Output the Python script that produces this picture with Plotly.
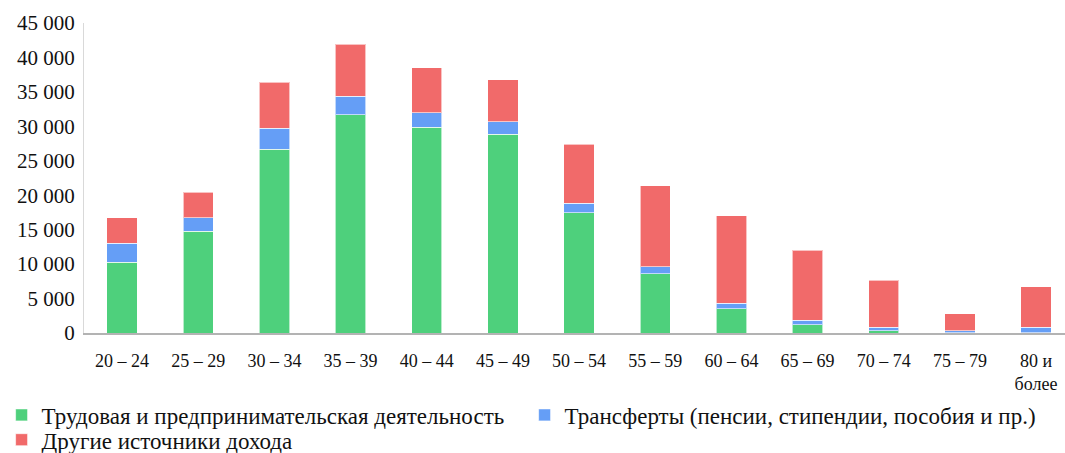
import plotly.graph_objects as go

categories = ["20 – 24", "25 – 29", "30 – 34", "35 – 39", "40 – 44", "45 – 49", "50 – 54",
              "55 – 59", "60 – 64", "65 – 69", "70 – 74", "75 – 79", "80 и<br>более"]
labor = [10250, 14800, 26650, 31650, 29900, 28850, 17450, 8600, 3550, 1200, 330, 30, 30]
transfers = [2750, 1900, 3100, 2750, 2100, 1850, 1350, 1000, 750, 630, 490, 300, 790]
other = [3700, 3700, 6650, 7550, 6500, 6050, 8600, 11800, 12700, 10170, 6820, 2430, 5860]
series_names = ["Трудовая и предпринимательская деятельность",
                "Трансферты (пенсии, стипендии, пособия и пр.)",
                "Другие источники дохода"]
y_tickvals = [0, 5000, 10000, 15000, 20000, 25000, 30000, 35000, 40000, 45000]
y_ticktext = ["0", "5 000", "10 000", "15 000", "20 000", "25 000", "30 000", "35 000", "40 000", "45 000"]

colors = ["#4ED07C", "#659EF6", "#F16A6A"]
legend_refs = ["legend", "legend", "legend2"]
FONT = "'Liberation Serif', 'Times New Roman', Times, serif"
LEG_FONT = dict(family=FONT, size=23, color="#111111")

fig = go.Figure()
x_idx = list(range(len(categories)))
for name, vals, col, lg in zip(series_names, [labor, transfers, other], colors, legend_refs):
    fig.add_trace(go.Bar(
        x=x_idx, y=vals, name=name, legend=lg,
        marker=dict(color=col, line=dict(color="rgba(255,255,255,0.6)", width=1)),
    ))

fig.update_layout(
    width=1065, height=453,
    barmode="stack", bargap=0.6,
    plot_bgcolor="white", paper_bgcolor="white",
    margin=dict(l=84, r=0, t=23, b=120, autoexpand=False),
    font=dict(family=FONT, color="#111111", size=18),
    showlegend=True,
    legend=dict(
        orientation="h", x=-0.084, xanchor="left", y=-0.195, yanchor="top",
        font=LEG_FONT, entrywidth=478, entrywidthmode="pixels",
        traceorder="normal", itemwidth=30, bgcolor="rgba(0,0,0,0)",
    ),
    legend2=dict(
        orientation="h", x=-0.084, xanchor="left", y=-0.275, yanchor="top",
        font=LEG_FONT, itemwidth=30, bgcolor="rgba(0,0,0,0)",
    ),
)
fig.update_xaxes(
    range=[-0.5, 12.38], tickmode="array", tickvals=x_idx, ticktext=categories,
    showline=True, linecolor="#b3b3b3", linewidth=2, showgrid=False, zeroline=False,
    ticks="", tickfont=dict(family=FONT, size=18, color="#111111"), tickangle=0,
    ticklabelstandoff=10, fixedrange=True,
)
fig.update_yaxes(
    range=[0, 45000], tickmode="array", tickvals=y_tickvals, ticktext=y_ticktext,
    showline=True, linecolor="#d9d9d9", linewidth=1, showgrid=False, zeroline=False,
    ticks="", tickfont=dict(family=FONT, size=21, color="#111111"),
    ticklabelstandoff=4,
)

fig.write_html("out.html", config={"displayModeBar": False},
               post_script="document.body.style.margin='0';document.body.style.padding='0';document.body.style.overflow='hidden';")
